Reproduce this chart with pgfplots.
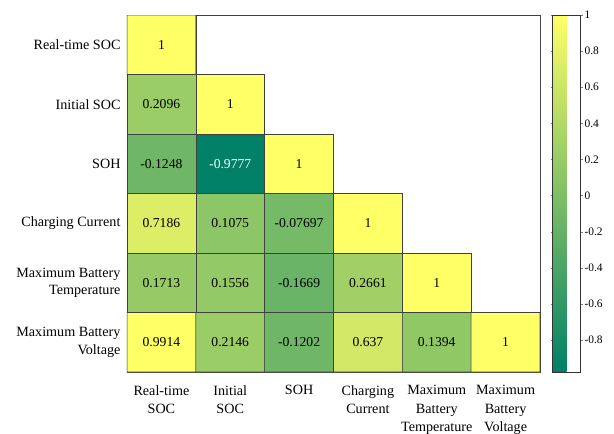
\documentclass[border=0pt]{standalone}
\usepackage{pgfplots}
\pgfplotsset{compat=1.18}
\usepackage{fontspec}
\setmainfont{Liberation Serif}

\begin{document}
\begin{tikzpicture}
\useasboundingbox (-127bp,-62bp) rectangle (487bp,372bp);
\begin{axis}[
  at={(0,0)}, anchor=south west,
  scale only axis,
  width=413bp, height=357bp,
  xmin=-0.5, xmax=5.5, ymin=-0.5, ymax=5.5,
  y dir=reverse,
  axis line style={draw=black!72, line width=0.6bp},
  xtick={0,...,5}, ytick={0,...,5},
  major tick length=0pt,
  xticklabels={Real-time\\SOC, Initial\\SOC, SOH, Charging\\Current,
               Maximum\\Battery\\Temperature, Maximum\\Battery\\Voltage},
  yticklabels={Real-time SOC, Initial SOC, SOH, Charging Current,
               Maximum Battery\\Temperature, Maximum Battery\\Voltage},
  xticklabel style={align=center, font=\fontsize{14.2}{18.3}\selectfont, anchor=north, yshift=-10bp},
  yticklabel style={align=right, font=\fontsize{14.2}{17.7}\selectfont, anchor=east, xshift=-3bp},
  colormap={summer}{rgb=(0,0.5,0.4) rgb=(1,1,0.4)},
  point meta min=-0.9777, point meta max=1,
  colorbar,
  colorbar style={
    at={(parent axis.north east)}, anchor=north west, xshift=4bp,
    width=28bp,
    ytick={-0.8,-0.6,...,1.0},
    tick align=outside,
    major tick length=2bp,
    yticklabel style={font=\fontsize{11.5}{13}\selectfont, /pgf/number format/assume math mode=true,
      /pgf/number format/fixed, xshift=-1.5bp},
    axis line style={draw=black!80, line width=0.6bp},
  },
]
% correlation matrix (upper triangle is masked below)
\addplot[matrix plot*, mesh/cols=6, point meta=explicit, draw=black!75, line width=0.6bp]
  table[meta=c] {
x y c
0 0 1
1 0 1
2 0 1
3 0 1
4 0 1
5 0 1
0 1 0.2096
1 1 1
2 1 1
3 1 1
4 1 1
5 1 1
0 2 -0.1248
1 2 -0.9777
2 2 1
3 2 1
4 2 1
5 2 1
0 3 0.7186
1 3 0.1075
2 3 -0.07697
3 3 1
4 3 1
5 3 1
0 4 0.1713
1 4 0.1556
2 4 -0.1669
3 4 0.2661
4 4 1
5 4 1
0 5 0.9914
1 5 0.2146
2 5 -0.1202
3 5 0.637
4 5 0.1394
5 5 1
};
% blank upper triangle
\addplot[fill=white, draw=black!75, line width=0.6bp] coordinates {
  (0.5,-0.5) (5.5,-0.5) (5.5,4.5) (4.5,4.5) (4.5,3.5) (3.5,3.5)
  (3.5,2.5) (2.5,2.5) (2.5,1.5) (1.5,1.5) (1.5,0.5) (0.5,0.5) (0.5,-0.5)
};
% cell values
\addplot[only marks, mark=*, mark size=0pt, mark options={draw=none, fill=none},
  nodes near coords, point meta=explicit symbolic,
  every node near coord/.append style={anchor=center, font=\fontsize{13.7}{16}\selectfont, text=black}]
  table[meta=t] {
x y t
0 0 1
0 1 0.2096
1 1 1
0 2 -0.1248
2 2 1
0 3 0.7186
1 3 0.1075
2 3 -0.07697
3 3 1
0 4 0.1713
1 4 0.1556
2 4 -0.1669
3 4 0.2661
4 4 1
0 5 0.9914
1 5 0.2146
2 5 -0.1202
3 5 0.637
4 5 0.1394
5 5 1
};
\addplot[only marks, mark=*, mark size=0pt, mark options={draw=none, fill=none},
  nodes near coords, point meta=explicit symbolic,
  every node near coord/.append style={anchor=center, font=\fontsize{13.7}{16}\selectfont, text=white}]
  table[meta=t] {
x y t
1 2 -0.9777
};
\end{axis}
\end{tikzpicture}
\end{document}
